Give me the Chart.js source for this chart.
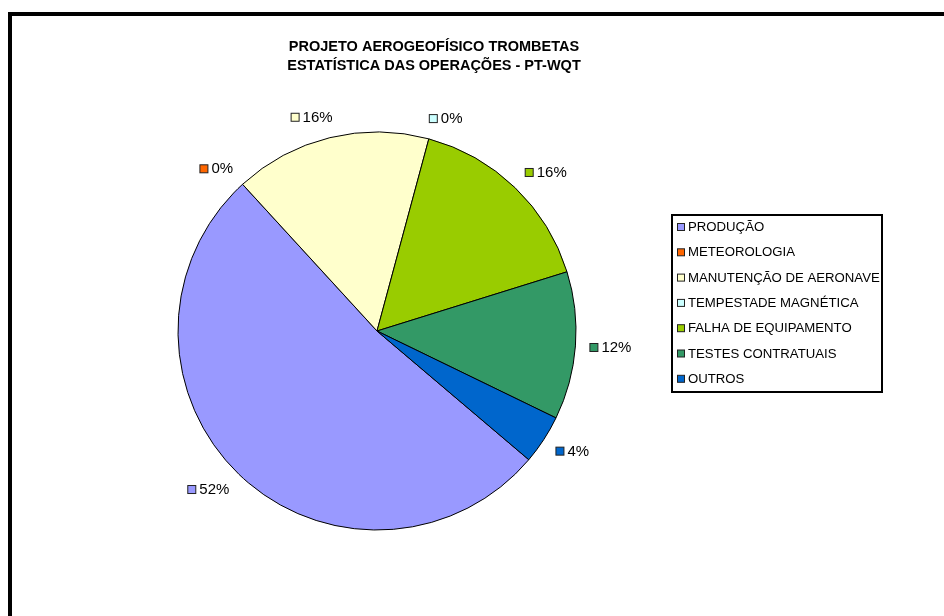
<!DOCTYPE html>
<html>
<head>
<meta charset="utf-8">
<script src="https://cdn.jsdelivr.net/npm/chart.js@4/dist/chart.umd.min.js"></script>
<style>
  html, body { margin: 0; padding: 0; background: #fff; overflow: hidden; }
  #wrap { width: 944px; height: 616px; position: relative; }
</style>
</head>
<body>
<div id="wrap"><canvas id="grafico" width="944" height="616"></canvas></div>
<script>
// Operações do PT-WQT (%)
const categorias = ["PRODUÇÃO", "METEOROLOGIA", "MANUTENÇÃO DE AERONAVE", "TEMPESTADE MAGNÉTICA", "FALHA DE EQUIPAMENTO", "TESTES CONTRATUAIS", "OUTROS"];
const percentuais = [52, 0, 16, 0, 16, 12, 4];
const titulo = ["PROJETO AEROGEOFÍSICO TROMBETAS", "ESTATÍSTICA DAS OPERAÇÕES - PT-WQT"];

const cores = [
  "#9999ff", // lilás
  "#ff6600", // laranja
  "#ffffcc", // creme
  "#ccffff", // ciano claro
  "#99cc00", // verde limão
  "#339966", // verde
  "#0066cc"  // azul
];

const fonte = "'Liberation Sans', Arial, Helvetica, sans-serif";

// quadradinho de cor com contorno escuro
function marcador(ctx, x, y, tam, cor) {
  ctx.fillStyle = cor;
  ctx.fillRect(x, y - tam / 2, tam, tam);
  ctx.strokeStyle = "#222";
  ctx.lineWidth = 1;
  ctx.strokeRect(x, y - tam / 2, tam, tam);
}

// moldura, título, rótulos e legenda no estilo de planilha
const estiloPlanilha = {
  id: "estiloPlanilha",
  beforeDraw(chart) {
    const ctx = chart.ctx;
    ctx.save();
    ctx.fillStyle = "#000";
    ctx.fillRect(8, 12, 936, 4);
    ctx.fillRect(8, 12, 4, 604);

    ctx.font = "bold 14.5px " + fonte;
    ctx.textAlign = "center";
    ctx.textBaseline = "middle";
    ctx.fillText(titulo[0], 434, 47);
    ctx.fillText(titulo[1], 434, 66);
    ctx.restore();
  },
  afterDatasetsDraw(chart) {
    const ctx = chart.ctx;
    const meta = chart.getDatasetMeta(0);
    const total = percentuais.reduce((a, b) => a + b, 0);
    ctx.save();

    // rótulos de porcentagem fora das fatias
    ctx.font = "15px " + fonte;
    ctx.textBaseline = "middle";
    ctx.textAlign = "left";
    meta.data.forEach((arc, i) => {
      const txt = Math.round(percentuais[i] / total * 100) + "%";
      const w = 12 + ctx.measureText(txt).width;
      const h = 14;
      const meio = (arc.startAngle + arc.endAngle) / 2;
      const cx = Math.cos(meio), cy = Math.sin(meio);
      const r = arc.outerRadius + 14;
      const kx = Math.max(-1, Math.min(1, cx * 3));
      const x = arc.x + cx * r + kx * w / 2 - w / 2;
      const y = arc.y + cy * r + cy * h / 2;
      marcador(ctx, x + 0.5, y, 8, cores[i]);
      ctx.fillStyle = "#000";
      ctx.fillText(txt, x + 12, y + 0.5);
    });

    // legenda
    ctx.strokeStyle = "#000";
    ctx.lineWidth = 2;
    ctx.strokeRect(672, 215, 210, 177);
    ctx.font = "13.2px " + fonte;
    categorias.forEach((nome, i) => {
      const y = 227 + i * 25.3;
      marcador(ctx, 677.5, y, 7, cores[i]);
      ctx.fillStyle = "#000";
      ctx.fillText(nome, 688, y + 0.5);
    });
    ctx.restore();
  }
};

new Chart(document.getElementById("grafico"), {
  type: "pie",
  data: {
    labels: categorias,
    datasets: [{
      data: percentuais,
      backgroundColor: cores,
      borderColor: "#000",
      borderWidth: 1
    }]
  },
  options: {
    responsive: false,
    animation: false,
    rotation: 130.3,
    radius: 199,
    layout: { padding: { left: 177, right: 367, top: 131, bottom: 85 } },
    plugins: {
      legend: { display: false },
      title: { display: false },
      tooltip: { enabled: false }
    }
  },
  plugins: [estiloPlanilha]
});
</script>
</body>
</html>
